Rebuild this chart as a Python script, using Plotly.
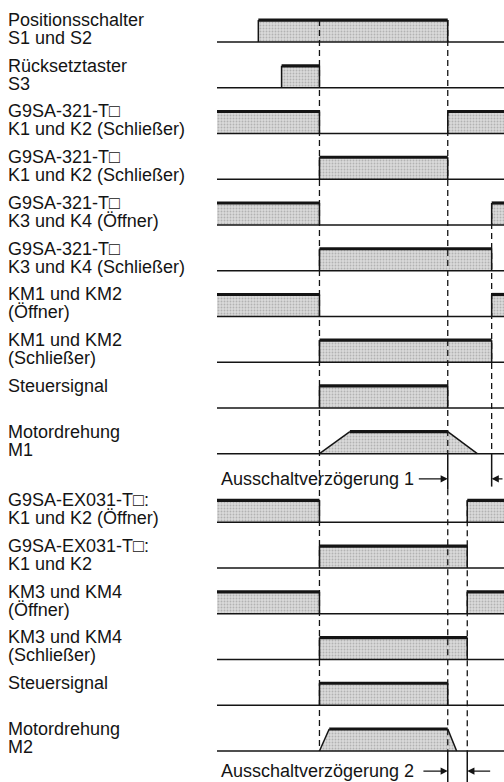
import plotly.graph_objects as go

# ---------------- data ----------------
label_line1 = [
    "Positionsschalter", "Rücksetztaster", "G9SA-321-T□", "G9SA-321-T□",
    "G9SA-321-T□", "G9SA-321-T□", "KM1 und KM2", "KM1 und KM2",
    "Steuersignal", "Motordrehung", "G9SA-EX031-T□:", "G9SA-EX031-T□:",
    "KM3 und KM4", "KM3 und KM4", "Steuersignal", "Motordrehung",
]
label_line2 = [
    "S1 und S2", "S3", "K1 und K2 (Schließer)", "K1 und K2 (Schließer)",
    "K3 und K4 (Öffner)", "K3 und K4 (Schließer)", "(Öffner)", "(Schließer)",
    "", "M1", "K1 und K2 (Öffner)", "K1 und K2",
    "(Öffner)", "(Schließer)", "", "M2",
]
# row slot (vertical position of each signal baseline)
row_slots = [0, 1, 2, 3, 4, 5, 6, 7, 8, 9, 10.5, 11.5, 12.5, 13.5, 14.5, 15.5]

# event times (arbitrary time units, 0..100)
t_start, t_end = 0, 100
t_s1 = 14.4
t_s3 = 22.5
t_on = 35.7
t_off = 80.4
t_d2 = 87.2
t_d1 = 95.7
m1_up, m1_down = 46.3, 90.7
m2_up, m2_down = 39.1, 83.5

# waveforms: (time, level) points
waveforms = [
    [(t_start, 0), (t_s1, 0), (t_s1, 1), (t_off, 1), (t_off, 0), (t_end, 0)],
    [(t_start, 0), (t_s3, 0), (t_s3, 1), (t_on, 1), (t_on, 0), (t_end, 0)],
    [(t_start, 1), (t_on, 1), (t_on, 0), (t_off, 0), (t_off, 1), (t_end, 1)],
    [(t_start, 0), (t_on, 0), (t_on, 1), (t_off, 1), (t_off, 0), (t_end, 0)],
    [(t_start, 1), (t_on, 1), (t_on, 0), (t_d1, 0), (t_d1, 1), (t_end, 1)],
    [(t_start, 0), (t_on, 0), (t_on, 1), (t_d1, 1), (t_d1, 0), (t_end, 0)],
    [(t_start, 1), (t_on, 1), (t_on, 0), (t_d1, 0), (t_d1, 1), (t_end, 1)],
    [(t_start, 0), (t_on, 0), (t_on, 1), (t_d1, 1), (t_d1, 0), (t_end, 0)],
    [(t_start, 0), (t_on, 0), (t_on, 1), (t_off, 1), (t_off, 0), (t_end, 0)],
    [(t_start, 0), (t_on, 0), (m1_up, 1), (t_off, 1), (m1_down, 0), (t_end, 0)],
    [(t_start, 1), (t_on, 1), (t_on, 0), (t_d2, 0), (t_d2, 1), (t_end, 1)],
    [(t_start, 0), (t_on, 0), (t_on, 1), (t_d2, 1), (t_d2, 0), (t_end, 0)],
    [(t_start, 1), (t_on, 1), (t_on, 0), (t_d2, 0), (t_d2, 1), (t_end, 1)],
    [(t_start, 0), (t_on, 0), (t_on, 1), (t_d2, 1), (t_d2, 0), (t_end, 0)],
    [(t_start, 0), (t_on, 0), (t_on, 1), (t_off, 1), (t_off, 0), (t_end, 0)],
    [(t_start, 0), (t_on, 0), (m2_up, 1), (t_off, 1), (m2_down, 0), (t_end, 0)],
]
delay_labels = ["Ausschaltverzögerung 1", "Ausschaltverzögerung 2"]

# ---------------- styling / geometry ----------------
W, H = 504, 782
PITCH = 45.74          # px per slot
BASE0 = 42.0           # px of slot 0 baseline
LEVEL_H = 0.48         # signal height in slots
X0 = 217.0             # px where time axis starts
INK = "#141414"
FONT = dict(family="Liberation Sans, Arial, sans-serif", size=18, color=INK)

y_top = -BASE0 / PITCH
y_bot = (H - BASE0) / PITCH


def yv(slot, level):
    return slot - LEVEL_H * level


fig = go.Figure()

fill_x, fill_y = [], []
thin_x, thin_y = [], []
thick_x, thick_y = [], []
for slot, wf in zip(row_slots, waveforms):
    px = [p[0] for p in wf] + [wf[-1][0], wf[0][0]]
    py = [yv(slot, p[1]) for p in wf] + [slot, slot]
    fill_x += px + [None]
    fill_y += py + [None]
    thin_x += [wf[0][0], wf[-1][0], None]
    thin_y += [slot, slot, None]
    for (xa, la), (xb, lb) in zip(wf[:-1], wf[1:]):
        if la == 1 and lb == 1:
            thick_x += [xa, xb, None]
            thick_y += [yv(slot, 1), yv(slot, 1), None]
        elif la != lb:
            thin_x += [xa, xb, None]
            thin_y += [yv(slot, la), yv(slot, lb), None]

fig.add_trace(go.Scatter(
    x=fill_x, y=fill_y, mode="lines", fill="toself",
    fillcolor="#cdcdcd", line=dict(width=0), hoverinfo="skip",
    fillpattern=dict(shape=".", size=3, solidity=0.3,
                     fgcolor="#8a8a8a", bgcolor="#dadada"),
))

ann_slots = [9.55, 15.94]
dash_segments = [
    (t_on, yv(0, 1), 15.5),
    (t_off, yv(0, 1), 9.0),
    (t_off, 9.78, 15.5),
    (t_d1, yv(4, 1), 9.0),
    (t_d2, yv(10.5, 1), 15.5),
]
solid_segments = [
    (t_off, 9.0, 9.78),
    (t_d1, 9.0, 9.72),
    (t_off, 15.5, y_bot),
    (t_d2, 15.5, y_bot),
]
dx, dy = [], []
for t, a, b in dash_segments:
    dx += [t, t, None]
    dy += [a, b, None]
fig.add_trace(go.Scatter(x=dx, y=dy, mode="lines", hoverinfo="skip",
                         line=dict(color=INK, width=1.3, dash="6px,4px")))
for t, a, b in solid_segments:
    thin_x += [t, t, None]
    thin_y += [a, b, None]

fig.add_trace(go.Scatter(x=thin_x, y=thin_y, mode="lines", hoverinfo="skip",
                         line=dict(color=INK, width=1.5)))
fig.add_trace(go.Scatter(x=thick_x, y=thick_y, mode="lines", hoverinfo="skip",
                         line=dict(color=INK, width=3.2)))

annotations = []
L1_OFF = 22 / PITCH
L2_OFF = 4 / PITCH
for slot, l1, l2 in zip(row_slots, label_line1, label_line2):
    annotations.append(dict(x=6 / W, xref="paper", y=slot - L1_OFF, yref="y",
                            text=l1, showarrow=False, xanchor="left",
                            yanchor="middle", font=FONT))
    if l2:
        annotations.append(dict(x=6 / W, xref="paper", y=slot - L2_OFF, yref="y",
                                text=l2, showarrow=False, xanchor="left",
                                yanchor="middle", font=FONT))

delay_ends = [(t_off, t_d1), (t_off, t_d2)]
for ys, txt in zip(ann_slots, delay_labels):
    annotations.append(dict(x=219 / W, xref="paper", y=ys, yref="y", text=txt,
                            showarrow=False, xanchor="left", yanchor="middle",
                            font=FONT))
for ys, (ta, tb), tail_l, tail_r in zip(ann_slots, delay_ends, [69.8, 71.4], [100, t_d1]):
    annotations.append(dict(x=ta, y=ys, xref="x", yref="y", ax=tail_l, ay=ys,
                            axref="x", ayref="y", showarrow=True, arrowhead=2,
                            arrowsize=1.1, arrowwidth=1.3, arrowcolor=INK,
                            standoff=0, text=""))
    annotations.append(dict(x=tb, y=ys, xref="x", yref="y", ax=tail_r, ay=ys,
                            axref="x", ayref="y", showarrow=True, arrowhead=2,
                            arrowsize=1.1, arrowwidth=1.3, arrowcolor=INK,
                            standoff=0, text=""))

fig.update_layout(
    width=W, height=H,
    margin=dict(l=0, r=0, t=0, b=0),
    paper_bgcolor="white", plot_bgcolor="white",
    showlegend=False,
    xaxis=dict(domain=[X0 / W, 1], range=[t_start, t_end], visible=False,
               fixedrange=True),
    yaxis=dict(domain=[0, 1], range=[y_bot, y_top], visible=False,
               fixedrange=True),
    annotations=annotations,
)

fig.write_html(
    "out.html",
    config={"displayModeBar": False},
    post_script="document.body.style.margin='0';document.body.style.overflow='hidden';",
)
